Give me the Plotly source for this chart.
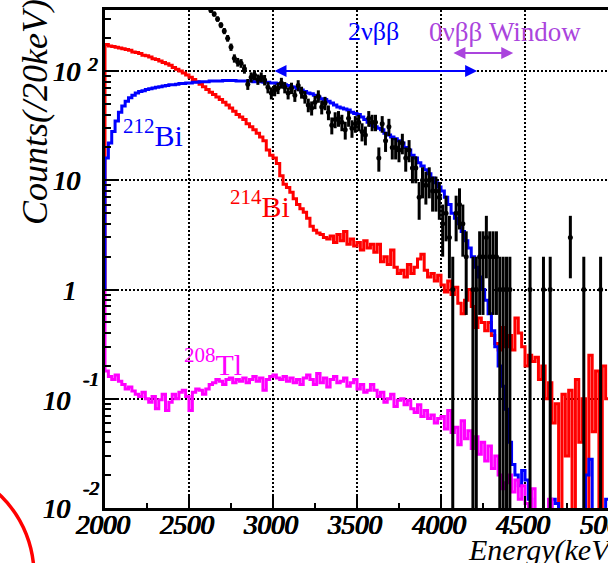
import plotly.graph_objects as go
import numpy as np

# ---------------- data ----------------
bin_width = 20
e_min = 2000
n_bins = 150

bi214 = [
    175, 170, 168, 165, 163, 160, 158, 155, 150, 148,
    145, 140, 138, 135, 130, 128, 124, 120, 117, 113,
    108, 104, 100, 96, 92, 88, 84, 80, 76, 72,
    68, 64, 61, 58, 55, 52, 49, 46, 43, 40,
    38, 36, 33, 31, 29, 27, 25, 23, 19, 17,
    16, 14.3, 11, 9.2, 8.6, 7.8, 6.8, 6.0, 5.5, 5.1,
    4.5, 3.8, 3.5, 3.3, 3.2, 3.0, 2.9, 3.1, 2.7, 3.2,
    2.8, 3.4, 2.6, 2.9, 2.5, 2.7, 2.3, 2.8, 2.4, 2.6,
    2.2, 2.6, 1.8, 2.0, 1.7, 2.3, 1.6, 1.4, 1.5, 1.3,
    1.7, 1.4, 1.6, 1.9, 2.1, 1.5, 1.3, 1.4, 1.2, 1.35,
    1.1, 0.95, 1.2, 0.9, 1.05, 0.75, 0.6, 0.8, 1.0, 0.7,
    0.45, 0.55, 0.5, 0.42, 0.5, 0.38, 0.32, 0.28, 0.45, 0.3,
    0.38, 0.28, 0.55, 0.4, 0.3, 0.2, 0.25, 0.22, 0.24, 0.15,
    0.2, 0.1, 0.14, 0.06, 0.09, 0, 0.11, 0.03, 0.12, 0,
    0.15, 0.04, 0.1, 0, 0.25, 0.05, 0.18, 0, 0.2, 0.1,
]

bi212 = [
    16, 22, 28, 35, 42, 48, 53, 57, 60, 63,
    65, 66, 68, 69, 70, 71, 72, 73, 74, 75,
    75, 76, 77, 77, 78, 78, 79, 79, 80, 80,
    80, 81, 81, 81, 81, 82, 82, 82, 82, 81,
    81, 81, 81, 81, 80, 80, 80, 79, 79, 78,
    78, 77, 76, 75, 74, 72, 71, 69, 67, 65,
    63, 62, 60, 58, 56, 55, 53, 51, 49, 47,
    46, 45, 44, 42, 41, 40, 38, 36, 34, 32,
    31, 30, 29, 27, 26, 25, 24, 23, 22, 20,
    19, 17, 16, 14.5, 13.5, 12.5, 11.5, 10.5, 9.5, 8.7,
    8, 7, 6, 5, 4.5, 4, 3.4, 2.8, 2.4, 2.0,
    1.6, 1.3, 1.0, 0.8, 0.6, 0.42, 0.3, 0.2, 0.13, 0.08,
    0.04, 0.025, 0.02, 0.016, 0.022, 0.018, 0.012, 0, 0, 0,
    0, 0, 0, 0.012, 0.011, 0, 0, 0, 0, 0,
    0, 0, 0, 0.02, 0.028, 0, 0, 0, 0, 0.012,
]

tl208 = [
    0.18, 0.16, 0.15, 0.165, 0.145, 0.135, 0.123, 0.128, 0.118, 0.11,
    0.105, 0.115, 0.1, 0.093, 0.105, 0.081, 0.098, 0.11, 0.078, 0.093,
    0.11, 0.1, 0.115, 0.12, 0.105, 0.078, 0.115, 0.123, 0.12, 0.11,
    0.123, 0.135, 0.14, 0.15, 0.145, 0.135, 0.15, 0.155, 0.14, 0.15,
    0.145, 0.155, 0.14, 0.15, 0.16, 0.145, 0.155, 0.12, 0.15, 0.16,
    0.165, 0.155, 0.15, 0.16, 0.145, 0.155, 0.14, 0.15, 0.135, 0.155,
    0.165, 0.15, 0.135, 0.17, 0.14, 0.155, 0.128, 0.15, 0.16, 0.14,
    0.145, 0.155, 0.13, 0.14, 0.15, 0.123, 0.135, 0.115, 0.12, 0.135,
    0.12, 0.105, 0.115, 0.093, 0.1, 0.11, 0.085, 0.097, 0.1, 0.088,
    0.097, 0.081, 0.075, 0.088, 0.069, 0.078, 0.066, 0.071, 0.06, 0.066,
    0.069, 0.053, 0.078, 0.049, 0.055, 0.038, 0.063, 0.043, 0.051, 0.035,
    0.045, 0.031, 0.04, 0.027, 0.037, 0.023, 0.03, 0.02, 0.015, 0.017,
    0.02, 0.014, 0.018, 0.012, 0.016, 0.011, 0, 0.015, 0, 0,
    0, 0, 0.012, 0, 0, 0, 0, 0, 0, 0,
    0, 0, 0, 0, 0, 0, 0, 0, 0, 0,
]

data_first_bin = 31
data_counts = [
    360, 333, 300, 264, 233, 200, 166, 131, 121, 118,
    105, 76, 88, 92, 84, 88, 83, 71, 63, 67,
    70, 78, 71, 63, 70, 60, 74, 64, 58, 49,
    46, 52, 59, 47, 51, 42, 32, 36, 37, 34,
    29, 37, 30, 33, 34, 28, 26, 37, 34, 34,
    16, 33, 23, 31, 20, 20, 19, 22, 16, 19,
    13, 13, 7, 10, 9, 10, 8, 8, 7, 4,
    5, 3, 1, 5, 6, 4, 2, 0, 1, 1,
    2, 2, 3, 2, 2, 2, 1, 1, 1, 1,
    0, 0, 0, 0, 0, 1, 0, 0, 0, 1,
    0, 1, 0, 0, 0, 0, 0, 3, 0, 0,
    0, 1, 0, 0, 0, 0, 1, 0, 0,
]

x_tick_vals = [2000, 2500, 3000, 3500, 4000, 4500, 5000]
x_tick_text = ["2000", "2500", "3000", "3500", "4000", "4500", "5000"]
two_nu_range = [3000, 4215]
zero_nu_window = [4065, 4430]

# ---------------- geometry helpers (pixel layout) ----------------
W, H = 608, 563
L, R, T, B = 105, 608, 10, 508
x_max = e_min + (R - L) * 500 / 84.0
y_lo, y_hi = -2.0, 2.0 + (71 - T) / 109.0


def px(xp):
    return (xp - L) / (R - L)


def py(yp):
    return (B - yp) / (B - T)


def e2px(e):
    return L + (e - e_min) * 84.0 / 500


edges = [e_min + bin_width * i for i in range(n_bins + 1)]


def hist_xy(vals):
    floor = 1e-4
    xs = [e_min] + edges
    v = [a if a > 0 else floor for a in vals]
    ys = [1.0] + v + [v[-1]]
    return xs, ys


fig = go.Figure()

for vals, col in [(bi214, "#ff0000"), (bi212, "#0000ff"), (tl208, "#ff00ff")]:
    xs, ys = hist_xy(vals)
    fig.add_trace(go.Scatter(x=xs, y=ys, mode="lines", line=dict(color=col, width=3, shape="hv"),
                             showlegend=False, hoverinfo="skip"))

dx, dy, de = [], [], []
for k, c in enumerate(data_counts):
    if c > 0:
        i = data_first_bin + k
        dx.append(e_min + bin_width * (i + 0.5))
        dy.append(c)
        de.append(np.sqrt(c))
de_minus = [min(e, y - 1e-4) for e, y in zip(de, dy)]
fig.add_trace(go.Scatter(x=dx, y=dy, mode="markers",
                         marker=dict(color="black", size=5, symbol="circle"),
                         error_y=dict(type="data", array=de, arrayminus=de_minus, symmetric=False,
                                      color="black", thickness=3, width=0),
                         showlegend=False, hoverinfo="skip"))

serif = "Liberation Serif, Times New Roman, serif"

fig.update_layout(
    width=W, height=H,
    margin=dict(l=L, r=W - R, t=T, b=H - B),
    paper_bgcolor="white", plot_bgcolor="white",
    showlegend=False,
    xaxis=dict(range=[e_min, x_max], tickvals=x_tick_vals[:-1], showticklabels=False,
               ticks="inside", ticklen=12, tickwidth=2, tickcolor="black",
               showline=True, linecolor="black", linewidth=3, mirror=True,
               showgrid=True, gridcolor="black", gridwidth=2, griddash="2px,2px",
               zeroline=False,
               minor=dict(ticks="inside", ticklen=5, tickwidth=2, tickcolor="black", dtick=250,
                          tick0=2000, showgrid=False)),
    yaxis=dict(type="log", range=[y_lo, y_hi], dtick=1,
               ticks="inside", ticklen=12, tickwidth=2, tickcolor="black",
               showline=True, linecolor="black", linewidth=3, mirror=False,
               showgrid=True, gridcolor="black", gridwidth=2, griddash="2px,2px",
               showticklabels=False, zeroline=False,
               minor=dict(ticks="inside", ticklen=6, tickwidth=2, tickcolor="black", showgrid=False)),
)

# bold-italic look: italic face thickened with a thin text shadow
fake_bold = "0.8px 0px 0px black, -0.4px 0px 0px black, 0px 0.4px 0px black"
tf = dict(family=serif, size=27, color="black", style="italic", shadow=fake_bold)
sf = dict(family=serif, size=19, color="black", style="italic", shadow=fake_bold)

ann = []
# x tick labels (ROOT style, bold italic)
for v, t in zip(x_tick_vals, x_tick_text):
    ann.append(dict(text=t, x=px(e2px(v) - 2), y=py(525), font=tf, xanchor="center", yanchor="middle"))
# y tick labels in ROOT style
ann.append(dict(text="10", x=px(83), y=py(72), font=tf, xanchor="right", yanchor="middle"))
ann.append(dict(text="2", x=px(86), y=py(64), font=sf, xanchor="left", yanchor="middle"))
ann.append(dict(text="10", x=px(83), y=py(181), font=tf, xanchor="right", yanchor="middle"))
ann.append(dict(text="1", x=px(79), y=py(291), font=tf, xanchor="right", yanchor="middle"))
ann.append(dict(text="-1", x=px(81), y=py(379), font=sf, xanchor="left", yanchor="middle"))
ann.append(dict(text="10", x=px(73), y=py(401), font=tf, xanchor="right", yanchor="middle"))
ann.append(dict(text="-2", x=px(81), y=py(488), font=sf, xanchor="left", yanchor="middle"))
ann.append(dict(text="10", x=px(73), y=py(509), font=tf, xanchor="right", yanchor="middle"))
# axis titles
ann.append(dict(text="Counts(/20keV)", x=px(35), y=py(112), textangle=-90,
                font=dict(family=serif, size=36, color="black", style="italic"),
                xanchor="center", yanchor="middle"))
ann.append(dict(text="Energy(keV)", x=px(466), y=py(550),
                font=dict(family=serif, size=30, color="black", style="italic"),
                xanchor="left", yanchor="middle"))
# isotope labels
ann.append(dict(text="<sup>212</sup>Bi", x=px(121), y=py(133), font=dict(family=serif, size=30, color="#0000ff"),
                xanchor="left", yanchor="middle"))
ann.append(dict(text="<sup>214</sup>Bi", x=px(228), y=py(204), font=dict(family=serif, size=30, color="#ff0000"),
                xanchor="left", yanchor="middle"))
ann.append(dict(text="<sup>208</sup>Tl", x=px(182), y=py(362), font=dict(family=serif, size=30, color="#ff00ff"),
                xanchor="left", yanchor="middle"))
ann.append(dict(text="2νββ", x=px(346), y=py(32), font=dict(family=serif, size=26, color="#0000ff"),
                xanchor="left", yanchor="middle"))
ann.append(dict(text="0νββ Window", x=px(427), y=py(32), font=dict(family=serif, size=27, color="#aa44dd"),
                xanchor="left", yanchor="middle"))
for a in ann:
    a.setdefault("xref", "paper")
    a.setdefault("yref", "paper")
    a["showarrow"] = False

# arrows (double headed)
arrow_defs = [
    (two_nu_range, 2.0, "#0000ff"),
    (zero_nu_window, 2.0 + (71 - 53) / 109.0, "#aa44dd"),
]
for (x0, x1), ylog, col in arrow_defs:
    ann.append(dict(x=x1, y=ylog, ax=x0, ay=ylog, xref="x", yref="y", axref="x", ayref="y",
                    text="", showarrow=True, arrowhead=2, startarrowhead=2, arrowside="end+start",
                    arrowsize=1.2, startarrowsize=1.2, arrowwidth=2, arrowcolor=col))

fig.update_layout(annotations=ann)

# red circle partially visible at bottom-left
cx, cy, r = -77, 575, 111
fig.add_shape(type="circle", xref="paper", yref="paper",
              x0=px(cx - r), x1=px(cx + r), y0=py(cy + r), y1=py(cy - r),
              line=dict(color="#ff0000", width=3.5), layer="above")

fig.write_html("out.html")
